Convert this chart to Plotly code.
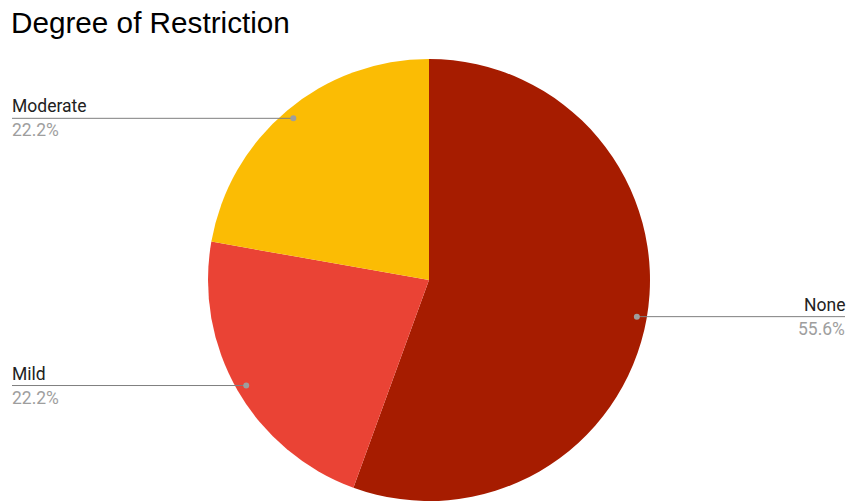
import math
import plotly.graph_objects as go

labels = ["None", "Mild", "Moderate"]
values = [5, 2, 2]
colors = ["#A61C00", "#EA4335", "#FBBC04"]
title = "Degree of Restriction"

W, H = 849, 501
cx_px, cy_px, r_px = 429, 280, 221

fig = go.Figure(go.Pie(
    labels=labels, values=values, sort=False, direction="clockwise", rotation=0,
    marker=dict(colors=colors, line=dict(width=0)),
    textinfo="none", hoverinfo="label+percent", showlegend=False,
    domain=dict(x=[(cx_px - r_px) / W, (cx_px + r_px) / W],
                y=[1 - (cy_px + r_px) / H, 1 - (cy_px - r_px) / H]),
))

total = sum(values)
cum = 0
shapes, annots = [], []
for lab, v in zip(labels, values):
    mid = (cum + v / 2) / total * 2 * math.pi
    cum += v
    dx = 0.955 * r_px * math.sin(mid)
    dy = 0.955 * r_px * math.cos(mid)
    px, py = cx_px + dx, cy_px - dy
    xp, yp = px / W, 1 - py / H
    right = dx > 0
    edge = (W - 4) / W if right else 12 / W
    tx = (W - 2) / W if right else 10 / W
    shapes.append(dict(type="line", xref="paper", yref="paper", x0=xp, x1=edge, y0=yp, y1=yp,
                       line=dict(color="#7f7f7f", width=1)))
    shapes.append(dict(type="circle", xref="paper", yref="paper", xsizemode="pixel", ysizemode="pixel",
                       xanchor=xp, yanchor=yp, x0=-3, x1=3, y0=-3, y1=3,
                       fillcolor="#9e9e9e", line=dict(width=0)))
    anchor = "right" if right else "left"
    pct = f"{v / total * 100:.1f}%"
    annots.append(dict(xref="paper", yref="paper", x=tx, y=yp, text=lab, showarrow=False,
                       xanchor=anchor, yanchor="bottom", font=dict(family="Roboto", size=17.5, color="#222222")))
    annots.append(dict(xref="paper", yref="paper", x=tx, y=yp, text=pct, showarrow=False,
                       xanchor=anchor, yanchor="top", font=dict(family="Roboto", size=17.5, color="#9e9e9e")))

fig.update_layout(
    width=W, height=H, margin=dict(l=0, r=0, t=0, b=0),
    paper_bgcolor="white", plot_bgcolor="white",
    title=dict(text=title, x=11 / W, xanchor="left", y=1 - 23 / H, yanchor="middle",
               font=dict(family="Liberation Sans, Arial", size=29.7, color="#000000")),
    shapes=shapes, annotations=annots,
)
fig.write_html("out.html", config={"displayModeBar": False},
               post_script="document.body.style.margin='0';")
